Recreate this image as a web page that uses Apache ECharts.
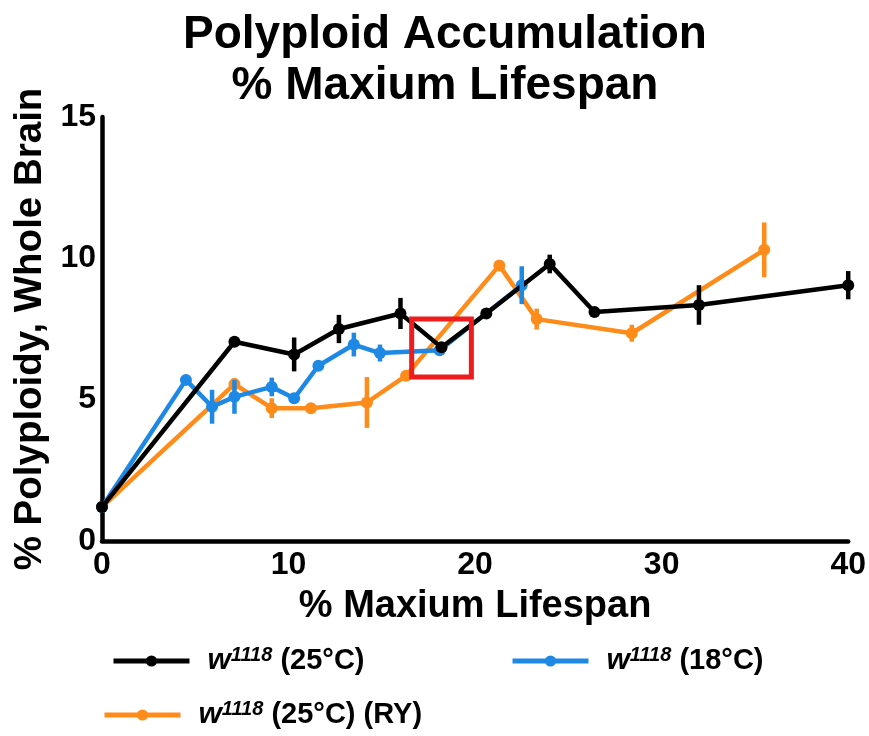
<!DOCTYPE html>
<html>
<head>
<meta charset="utf-8">
<script src="https://cdn.jsdelivr.net/npm/echarts@6/dist/echarts.min.js"></script>
<style>html,body{margin:0;padding:0;background:#fff;}#chart{width:869px;height:736px;}</style>
</head>
<body>
<div id="chart"></div>
<script>
// ---- data ----
const seriesNames = ['w1118 (25°C)', 'w1118 (18°C)', 'w1118 (25°C) (RY)'];
const blackX   = [0, 7.1, 10.3, 12.7, 16.0, 18.2, 20.6, 24.0, 26.4, 32.0, 40.0];
const blackY   = [1.2, 7.05, 6.6, 7.5, 8.05, 6.85, 8.05, 9.8, 8.1, 8.35, 9.05];
const blackErr = [0, 0, 0.6, 0.5, 0.55, 0, 0, 0.33, 0, 0.7, 0.5];
const blueX    = [0, 4.5, 5.9, 7.1, 9.1, 10.3, 11.6, 13.5, 14.9, 18.1, 22.5];
const blueY    = [1.2, 5.7, 4.75, 5.1, 5.45, 5.05, 6.2, 6.95, 6.65, 6.75, 9.05];
const blueErr  = [0, 0, 0.6, 0.6, 0.33, 0, 0, 0.42, 0.3, 0, 0.67];
const orangeX  = [0, 7.1, 9.1, 11.2, 14.2, 16.3, 21.3, 23.3, 28.4, 35.5];
const orangeY  = [1.2, 5.55, 4.7, 4.7, 4.9, 5.85, 9.75, 7.85, 7.35, 10.3];
const orangeErr= [0, 0.2, 0.35, 0, 0.9, 0, 0, 0.37, 0.3, 0.97];
const xTicks = [0, 10, 20, 30, 40];
const yTicks = [0, 5, 10, 15];
const highlightBox = [16.6, 5.8, 19.8, 7.85]; // x1, y1, x2, y2 in data units

const FONT = '"Liberation Sans", Arial, Helvetica, sans-serif';
const NARROW = '"Liberation Sans Narrow", "Arial Narrow", "Liberation Sans", Arial, sans-serif';
const C_BLACK = '#000000', C_BLUE = '#1E88E5', C_ORANGE = '#FF8C1A', C_RED = '#EE1C1C';

function pts(xs, ys) { return xs.map((x, i) => [x, ys[i]]); }
function errs(xs, ys, es) { return xs.map((x, i) => [x, ys[i], es[i]]).filter(d => d[2] > 0); }

function errSeries(name, data, color, z) {
  return {
    type: 'custom', name: name + '_err', z: z, silent: true,
    data: data, encode: { x: 0, y: 1 },
    renderItem: function (params, api) {
      const x = api.value(0), y = api.value(1), e = api.value(2);
      const p1 = api.coord([x, y - e]), p2 = api.coord([x, y + e]);
      return { type: 'line', shape: { x1: p1[0], y1: p1[1], x2: p2[0], y2: p2[1] },
               style: { stroke: color, lineWidth: 4.5 } };
    }
  };
}
function lineSeries(name, data, color, z) {
  return {
    type: 'line', name: name, data: data, z: z,
    symbol: 'circle', symbolSize: 12, showSymbol: true,
    lineStyle: { color: color, width: 4.5 },
    itemStyle: { color: color },
    emphasis: { disabled: true }, animation: false
  };
}
const rich = {
  w: { fontFamily: FONT, fontWeight: 'bold', fontStyle: 'italic', fontSize: 30, color: '#000', padding: [0, 0, 0, 13], lineHeight: 32 },
  s: { fontFamily: FONT, fontWeight: 'bold', fontStyle: 'italic', fontSize: 20, color: '#000', verticalAlign: 'top', lineHeight: 20 },
  n: { fontFamily: FONT, fontWeight: 'bold', fontSize: 29, color: '#000', lineHeight: 32 }
};
function legendFmt(name) {
  const rest = name.replace('w1118', '');
  return '{w|w}{s|1118}{n|' + rest + '}';
}
function legend(name, left, top) {
  return {
    data: [name], left: left, top: top, padding: 0,
    itemWidth: 76, itemHeight: 14, selectedMode: false,
    lineStyle: { width: 5 },
    formatter: legendFmt, textStyle: { rich: rich }
  };
}

const chart = echarts.init(document.getElementById('chart'), null, { renderer: 'canvas' });
chart.setOption({
  animation: false,
  backgroundColor: '#ffffff',
  title: {
    text: 'Polyploid Accumulation\n% Maxium Lifespan',
    left: 445, top: 10, textAlign: 'center', padding: 0,
    textStyle: { fontFamily: FONT, fontWeight: 'bold', fontSize: 46, lineHeight: 51, color: '#000' }
  },
  legend: [
    legend(seriesNames[0], 111, 645),
    legend(seriesNames[1], 510, 645),
    legend(seriesNames[2], 102, 699)
  ],
  grid: { left: 102, right: 18, top: 117, bottom: 195, containLabel: false },
  xAxis: {
    type: 'value', min: xTicks[0], max: xTicks[xTicks.length - 1], interval: 10,
    name: '% Maxium Lifespan', nameLocation: 'middle', nameGap: 47,
    nameTextStyle: { fontFamily: FONT, fontWeight: 'bold', fontSize: 38, color: '#000' },
    axisLine: { lineStyle: { color: '#000', width: 4.5 } },
    axisTick: { show: false },
    splitLine: { show: false },
    axisLabel: { fontFamily: NARROW, fontWeight: 'bold', fontSize: 32, color: '#000', margin: 8 }
  },
  yAxis: {
    type: 'value', min: yTicks[0], max: yTicks[yTicks.length - 1], interval: 5,
    name: '% Polyploidy, Whole Brain', nameLocation: 'middle', nameGap: 52, nameRotate: 90,
    nameTextStyle: { fontFamily: FONT, fontWeight: 'bold', fontSize: 38.5, color: '#000' },
    axisLine: { show: true, lineStyle: { color: '#000', width: 4.5 } },
    axisTick: { show: false },
    splitLine: { show: false },
    axisLabel: { fontFamily: NARROW, fontWeight: 'bold', fontSize: 32, color: '#000', margin: 6 }
  },
  series: [
    lineSeries(seriesNames[2], pts(orangeX, orangeY), C_ORANGE, 2),
    lineSeries(seriesNames[1], pts(blueX, blueY), C_BLUE, 3),
    lineSeries(seriesNames[0], pts(blackX, blackY), C_BLACK, 4),
    errSeries('orange', errs(orangeX, orangeY, orangeErr), C_ORANGE, 5),
    errSeries('black', errs(blackX, blackY, blackErr), C_BLACK, 6),
    errSeries('blue', errs(blueX, blueY, blueErr), C_BLUE, 7),
    {
      type: 'custom', name: 'box', z: 8, silent: true,
      data: [highlightBox], encode: { x: [0, 2], y: [1, 3] },
      renderItem: function (params, api) {
        const a = api.coord([api.value(0), api.value(3)]);
        const b = api.coord([api.value(2), api.value(1)]);
        return { type: 'rect', shape: { x: a[0], y: a[1], width: b[0] - a[0], height: b[1] - a[1] },
                 style: { fill: 'none', stroke: C_RED, lineWidth: 5 } };
      }
    }
  ]
});
</script>
</body>
</html>
